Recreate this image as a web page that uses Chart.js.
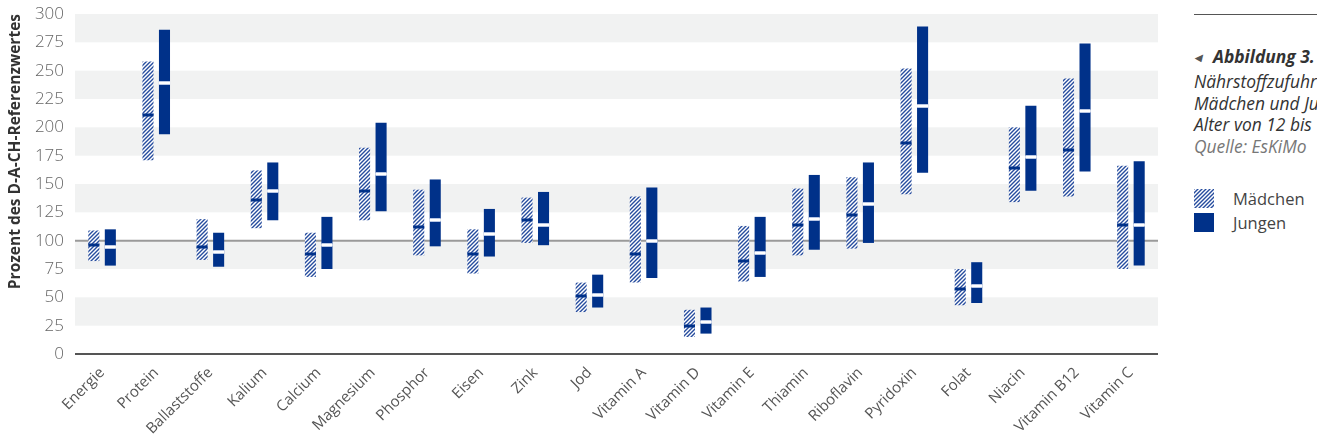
<!DOCTYPE html>
<html>
<head>
<meta charset="utf-8">
<script src="https://cdn.jsdelivr.net/npm/chart.js"></script>
<style>
  html, body { margin: 0; padding: 0; background: #fff; overflow: hidden; width: 1317px; height: 441px; }
  #wrap { position: absolute; left: 0; top: 0; width: 1162px; height: 441px; }
  #side { position: absolute; left: 1194px; top: 0; width: 200px; font-family: "Open Sans", sans-serif; color: #333; white-space: nowrap; }
  #side .rule { position: absolute; left: 0; top: 14px; width: 200px; height: 0; border-top: 1.5px solid #555; }
  #side .cap { position: absolute; left: 0; top: 46px; font-size: 17.4px; font-style: italic; line-height: 21.8px; }
  #side .cap b { font-weight: bold; }
  #side .cap .tri { font-size: 10px; color: #555; position: relative; top: -2px; margin-right: 11px; }
  #side .src { color: #777; }
  #side .leg { position: absolute; left: 0; font-size: 16.5px; color: #444; }
  #side .leg canvas, #side .leg span.sw { position: absolute; left: 0; top: 0; }
  #side .leg .lbl { position: absolute; left: 39px; top: -2px; }
  span.sw { display: block; width: 20px; height: 19px; background: #003189; }
</style>
</head>
<body>
<div id="wrap"><canvas id="myChart" width="1162" height="441"></canvas></div>
<div id="side">
  <div class="rule"></div>
  <div class="cap">
    <span class="tri">&#9664;</span><b>Abbildung 3.</b><br>
    Nährstoffzufuhr<br>
    Mädchen und Jungen<br>
    Alter von 12 bis<br>
    <span class="src">Quelle: EsKiMo</span>
  </div>
  <div class="leg" style="top:189px"><canvas id="hatchSw" width="20" height="19"></canvas><span class="lbl">Mädchen</span></div>
  <div class="leg" style="top:213px"><span class="sw"></span><span class="lbl">Jungen</span></div>
</div>
<script>
const categories = ['Energie', 'Protein', 'Ballaststoffe', 'Kalium', 'Calcium', 'Magnesium', 'Phosphor', 'Eisen', 'Zink', 'Jod',
  'Vitamin A', 'Vitamin D', 'Vitamin E', 'Thiamin', 'Riboflavin', 'Pyridoxin', 'Folat', 'Niacin', 'Vitamin B12', 'Vitamin C'];

// Mädchen: untere Grenze, obere Grenze, Median
const girlsLow    = [82, 171, 83, 111, 68, 118, 87, 71, 98, 37, 63, 15, 64, 87, 93, 141, 43, 134, 139, 75];
const girlsHigh   = [109, 258, 119, 162, 107, 182, 145, 110, 138, 63, 139, 39, 113, 146, 156, 252, 75, 200, 243, 166];
const girlsMedian = [96, 211, 94, 136, 88, 144, 112, 88, 118, 51, 88, 25, 82, 114, 123, 186, 57, 164, 180, 114];

// Jungen
const boysLow    = [78, 194, 77, 118, 75, 126, 95, 86, 96, 41, 67, 18, 68, 92, 98, 160, 45, 144, 161, 78];
const boysHigh   = [110, 286, 107, 169, 121, 204, 154, 128, 143, 70, 147, 41, 121, 158, 169, 289, 81, 219, 274, 170];
const boysMedian = [94, 239, 90, 144, 96, 159, 118, 106, 114, 52, 100, 28, 89, 119, 132, 219, 60, 174, 214, 114];

const yTicks = [0, 25, 50, 75, 100, 125, 150, 175, 200, 225, 250, 275, 300];
const bandStarts = [25, 75, 125, 175, 225, 275];

const blue = '#003189';

function makeHatch() {
  const c = document.createElement('canvas');
  c.width = 4; c.height = 4;
  const g = c.getContext('2d');
  g.fillStyle = '#ffffff';
  g.fillRect(0, 0, 4, 4);
  g.strokeStyle = '#264c9e';
  g.lineWidth = 1.4;
  g.beginPath();
  g.moveTo(0, 4); g.lineTo(4, 0);
  g.moveTo(-1, 1); g.lineTo(1, -1);
  g.moveTo(3, 5); g.lineTo(5, 3);
  g.stroke();
  return c;
}
const hatchTile = makeHatch();
const ctx0 = document.getElementById('myChart').getContext('2d');
const hatch = ctx0.createPattern(hatchTile, 'repeat');

// legend swatch
const sw = document.getElementById('hatchSw').getContext('2d');
sw.fillStyle = sw.createPattern(hatchTile, 'repeat');
sw.fillRect(0, 0, 20, 19);

const bands = {
  id: 'bands',
  beforeDatasetsDraw(chart) {
    const { ctx, chartArea: { left, right }, scales: { y } } = chart;
    ctx.save();
    ctx.fillStyle = '#f1f2f2';
    bandStarts.forEach(v => {
      const t = y.getPixelForValue(v + 25);
      const b = y.getPixelForValue(v);
      ctx.fillRect(left, t, right - left, b - t);
    });
    // 100 % Linie
    ctx.beginPath();
    ctx.moveTo(left, y.getPixelForValue(100));
    ctx.lineTo(right, y.getPixelForValue(100));
    ctx.lineWidth = 2;
    ctx.strokeStyle = '#9a9a9a';
    ctx.stroke();
    // Nulllinie
    ctx.beginPath();
    ctx.moveTo(left, y.getPixelForValue(0));
    ctx.lineTo(right, y.getPixelForValue(0));
    ctx.lineWidth = 2;
    ctx.strokeStyle = '#555555';
    ctx.stroke();
    ctx.restore();
  }
};

const medians = {
  id: 'medians',
  afterDatasetsDraw(chart) {
    const { ctx, scales: { y } } = chart;
    ctx.save();
    chart.data.datasets.forEach((ds, i) => {
      const meta = chart.getDatasetMeta(i);
      meta.data.forEach((bar, j) => {
        const yy = Math.round(y.getPixelForValue(ds.medians[j]));
        const w = bar.width;
        const x0 = bar.x - w / 2;
        if (i === 0) {
          ctx.fillStyle = blue;
          ctx.fillRect(x0, yy - 1.5, w, 3);
        } else {
          ctx.fillStyle = '#b7c6e4';
          ctx.fillRect(x0, yy - 2, w, 4);
          ctx.fillStyle = '#ffffff';
          ctx.fillRect(x0, yy - 1, w, 2);
        }
      });
    });
    ctx.restore();
  }
};

const data = {
  labels: categories,
  datasets: [{
    label: 'Mädchen',
    data: categories.map((c, i) => [girlsLow[i], girlsHigh[i]]),
    medians: girlsMedian,
    backgroundColor: hatch,
    borderWidth: 0
  }, {
    label: 'Jungen',
    data: categories.map((c, i) => [boysLow[i], boysHigh[i]]),
    medians: boysMedian,
    backgroundColor: blue,
    borderWidth: 0
  }]
};

const config = {
  type: 'bar',
  data,
  options: {
    responsive: false,
    animation: false,
    categoryPercentage: 0.61,
    barPercentage: 0.67,
    layout: { padding: { top: 0, right: 4, left: 0, bottom: 0 } },
    plugins: {
      legend: { display: false },
      tooltip: { enabled: false }
    },
    scales: {
      x: {
        grid: { display: false, drawTicks: false },
        border: { display: false },
        afterFit(scale) { scale.height = 87; scale.paddingLeft = 0; },
        ticks: {
          color: '#555',
          font: { family: '"Open Sans", sans-serif', size: 15 },
          maxRotation: 45,
          minRotation: 45,
          padding: 10,
          autoSkip: false
        }
      },
      y: {
        min: 0,
        max: 300,
        afterBuildTicks(scale) {
          scale.ticks = yTicks.map(v => ({ value: v }));
        },
        afterFit(scale) { scale.width = 75; scale.paddingTop = 14; scale.paddingBottom = 0; },
        grid: { display: false, drawTicks: false },
        border: { display: false },
        ticks: {
          color: '#666',
          font: { family: '"Open Sans", sans-serif', size: 17, weight: 300 },
          padding: 11
        },
        title: {
          display: true,
          text: 'Prozent des D-A-CH-Referenzwertes',
          align: 'end',
          color: '#333',
          font: { family: '"Open Sans", sans-serif', size: 15.5, weight: 'bold' },
          padding: { top: 6, bottom: 4 }
        }
      }
    }
  },
  plugins: [bands, medians]
};

const myChart = new Chart(document.getElementById('myChart'), config);
</script>
</body>
</html>
